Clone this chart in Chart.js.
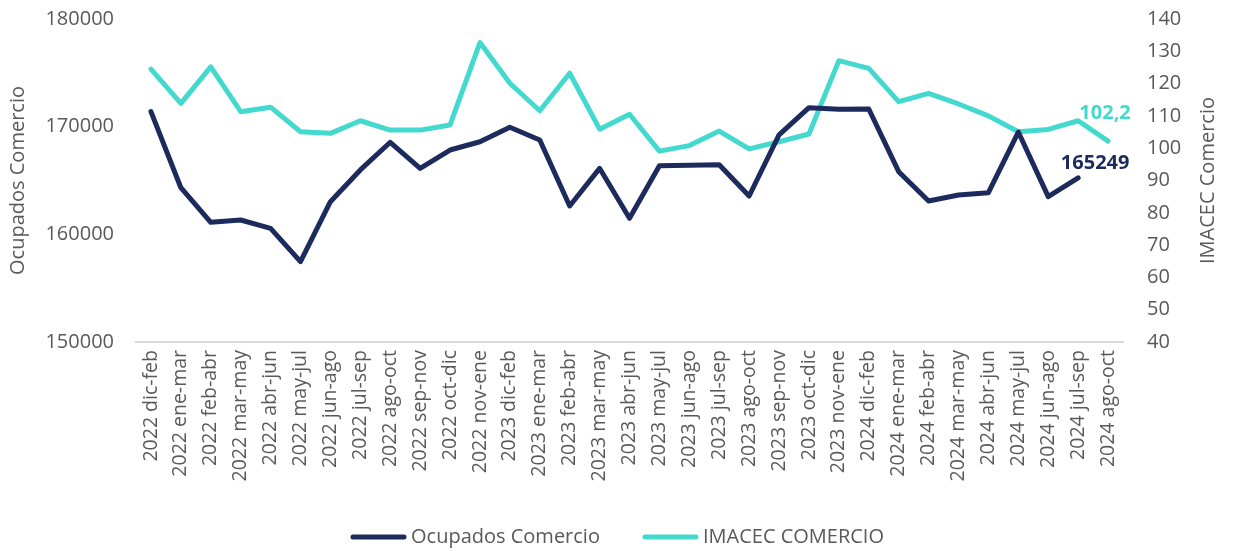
<!DOCTYPE html>
<html>
<head>
<meta charset="utf-8">
<script src="https://cdn.jsdelivr.net/npm/chart.js@4"></script>
<style>
	html, body { margin: 0; padding: 0; background: #ffffff; }
	#wrap { width: 1235px; height: 551px; }
</style>
</head>
<body>
<div id="wrap"><canvas id="chartCanvas" width="1235" height="551"></canvas></div>
<script>
const periodos = [
	"2022 dic-feb", "2022 ene-mar", "2022 feb-abr", "2022 mar-may", "2022 abr-jun",
	"2022 may-jul", "2022 jun-ago", "2022 jul-sep", "2022 ago-oct", "2022 sep-nov",
	"2022 oct-dic", "2022 nov-ene", "2023 dic-feb", "2023 ene-mar", "2023 feb-abr",
	"2023 mar-may", "2023 abr-jun", "2023 may-jul", "2023 jun-ago", "2023 jul-sep",
	"2023 ago-oct", "2023 sep-nov", "2023 oct-dic", "2023 nov-ene", "2024 dic-feb",
	"2024 ene-mar", "2024 feb-abr", "2024 mar-may", "2024 abr-jun", "2024 may-jul",
	"2024 jun-ago", "2024 jul-sep", "2024 ago-oct",
];

// Ocupados Comercio (eje izquierdo)
const ocupados = [
	171390, 164330, 161120, 161330, 160560, 157460, 163030, 165980, 168550, 166130,
	167830, 168600, 169940, 168760, 162630, 166130, 161490, 166370, 166410, 166470,
	163560, 169230, 171760, 171610, 171640, 165820, 163100, 163650, 163870, 169500,
	163500, 165249,
];

// IMACEC Comercio (eje derecho)
const imacec = [
	124.5, 113.9, 125.2, 111.3, 112.7, 105.1, 104.6, 108.5, 105.6, 105.6,
	107.2, 132.7, 120.1, 111.6, 123.2, 105.9, 110.5, 99.1, 100.8, 105.3,
	99.8, 102.0, 104.4, 127.1, 124.7, 114.4, 117.0, 113.7, 110.0, 105.1,
	105.8, 108.5, 102.2,
];

const NAVY = "#1c2b5c";
const TEAL = "#44d9cf";
const GRIS = "#595959";
const FONT = "'Open Sans', 'Noto Sans', sans-serif";

// etiquetas del ultimo valor, titulo del eje derecho y leyenda
const extrasPlugin = {
	id: "extras",
	afterDraw(chart) {
		const ctx = chart.ctx;
		ctx.save();
		ctx.font = `bold 20px ${FONT}`;
		ctx.textAlign = "center";
		ctx.textBaseline = "middle";

		const metaOcu = chart.getDatasetMeta(0);
		const pOcu = metaOcu.data[metaOcu.data.length - 1];
		ctx.fillStyle = NAVY;
		ctx.fillText(ocupados[ocupados.length - 1].toString(), pOcu.x + 17, pOcu.y - 15);

		const metaIm = chart.getDatasetMeta(1);
		const pIm = metaIm.data[metaIm.data.length - 1];
		ctx.fillStyle = TEAL;
		ctx.fillText(imacec[imacec.length - 1].toFixed(1).replace(".", ","), pIm.x - 3, pIm.y - 28);

		ctx.font = `20px ${FONT}`;
		ctx.fillStyle = GRIS;
		ctx.save();
		ctx.translate(chart.scales.y1.right - 27, (chart.chartArea.top + chart.chartArea.bottom) / 2);
		ctx.rotate(-Math.PI / 2);
		ctx.fillText("IMACEC Comercio", 0, 0);
		ctx.restore();

		// leyenda
		const boxW = 55;
		const gap = 5;
		const spacing = 43;
		const items = chart.data.datasets.map((ds) => ({
			text: ds.label,
			color: ds.borderColor,
			w: ctx.measureText(ds.label).width,
		}));
		let total = 0;
		items.forEach((it, i) => {
			total += boxW + gap + it.w + (i > 0 ? spacing : 0);
		});
		let x = (chart.width - total) / 2;
		const y = 537;
		ctx.textAlign = "left";
		ctx.lineCap = "round";
		ctx.lineWidth = 5;
		for (const it of items) {
			ctx.strokeStyle = it.color;
			ctx.beginPath();
			ctx.moveTo(x + 2, y);
			ctx.lineTo(x + boxW - 2, y);
			ctx.stroke();
			ctx.fillStyle = GRIS;
			ctx.fillText(it.text, x + boxW + gap, y);
			x += boxW + gap + it.w + spacing;
		}
		ctx.restore();
	},
};

const noPad = (scale) => {
	scale.paddingTop = 0;
	scale.paddingBottom = 0;
};

const ctx = document.getElementById("chartCanvas").getContext("2d");
new Chart(ctx, {
	type: "line",
	data: {
		labels: periodos,
		datasets: [
			{
				label: "Ocupados Comercio",
				data: ocupados,
				yAxisID: "y",
				borderColor: NAVY,
				backgroundColor: NAVY,
				borderWidth: 5,
				pointRadius: 0,
				tension: 0,
				borderCapStyle: "round",
				borderJoinStyle: "round",
			},
			{
				label: "IMACEC COMERCIO",
				data: imacec,
				yAxisID: "y1",
				borderColor: TEAL,
				backgroundColor: TEAL,
				borderWidth: 5,
				pointRadius: 0,
				tension: 0,
				borderCapStyle: "round",
				borderJoinStyle: "round",
			},
		],
	},
	options: {
		responsive: false,
		animation: false,
		layout: {
			padding: { top: 19, left: 0, right: 0, bottom: 26 },
		},
		scales: {
			x: {
				offset: true,
				grid: { display: false, drawTicks: false },
				border: { display: true, color: "#d9d9d9", width: 2 },
				ticks: {
					autoSkip: false,
					minRotation: 90,
					maxRotation: 90,
					padding: 8,
					color: GRIS,
					font: { family: FONT, size: 19.5 },
				},
				afterFit: (scale) => {
					scale.height = 183;
					noPad(scale);
				},
			},
			y: {
				position: "left",
				min: 150000,
				max: 180000,
				grid: { display: false, drawTicks: false },
				border: { display: false },
				ticks: {
					stepSize: 10000,
					padding: 22,
					color: GRIS,
					font: { family: FONT, size: 20 },
					callback: (v) => v.toString(),
				},
				title: {
					display: true,
					text: "Ocupados Comercio",
					color: GRIS,
					font: { family: FONT, size: 20 },
					padding: { top: 6, bottom: 0 },
				},
				afterFit: (scale) => {
					scale.width = 136;
					noPad(scale);
				},
			},
			y1: {
				position: "right",
				min: 40,
				max: 140,
				grid: { display: false, drawTicks: false },
				border: { display: false },
				ticks: {
					stepSize: 10,
					padding: 24,
					color: GRIS,
					font: { family: FONT, size: 20 },
				},
				afterFit: (scale) => {
					scale.width = 112;
					noPad(scale);
				},
			},
		},
		plugins: {
			tooltip: { enabled: false },
			legend: { display: false },
		},
	},
	plugins: [extrasPlugin],
});
</script>
</body>
</html>
